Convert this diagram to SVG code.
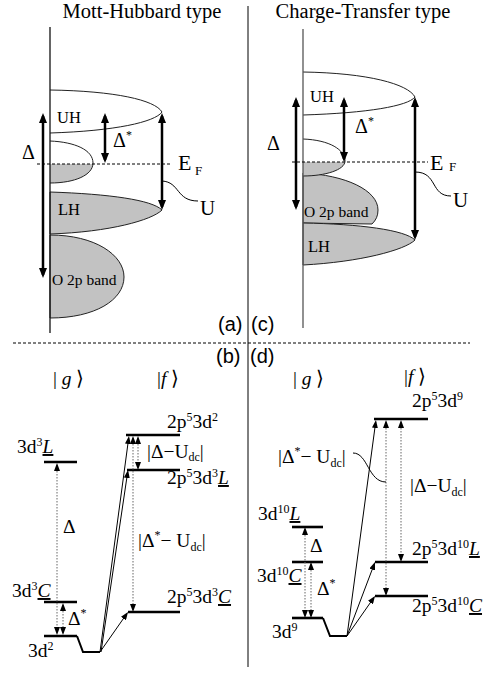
<svg xmlns="http://www.w3.org/2000/svg" width="491" height="673" viewBox="0 0 491 673">
<style>
text{font-family:"Liberation Serif","Times New Roman",serif;fill:#000}
.tt{font-size:20.5px}
.sans{font-family:"Liberation Sans",Arial,sans-serif;font-size:20px}
.bl{font-size:16.5px}
.ob{font-size:15.5px}
.gr{font-size:20px}
.lv{font-size:19.5px}
.sm{font-size:12px}
.ul{font-style:italic;text-decoration:underline}
.it{font-style:italic}
.band{stroke:#222;stroke-width:1;fill:none}
.fill{fill:#c2c2c2;stroke:#222;stroke-width:1}
.axis{stroke:#111;stroke-width:1.3;fill:none}
.big{stroke:#000;stroke-width:2.5;marker-start:url(#bh);marker-end:url(#bh)}
.lvl{stroke:#000;stroke-width:2.6;fill:none}
.gnd{stroke:#000;stroke-width:2;fill:none}
.sol{stroke:#000;stroke-width:1;marker-end:url(#sh);fill:none}
.dot{stroke:#666;stroke-width:1;stroke-dasharray:1.5 1.5;marker-start:url(#sh);marker-end:url(#sh)}
.dash{stroke:#000;stroke-width:1;stroke-dasharray:3 2;fill:none}
.thin{stroke:#000;stroke-width:1;fill:none}
</style>
<defs>
<marker id="bh" viewBox="0 0 10 8" refX="7" refY="4" markerWidth="10" markerHeight="8" markerUnits="userSpaceOnUse" orient="auto-start-reverse"><path d="M0,0 L10,4 L0,8 Z" fill="#000"/></marker>
<marker id="sh" viewBox="0 0 8 6" refX="6" refY="3" markerWidth="8" markerHeight="6" markerUnits="userSpaceOnUse" orient="auto-start-reverse"><path d="M0,0 L8,3 L0,6 Z" fill="#000"/></marker>
<clipPath id="belowA"><rect x="0" y="164" width="245" height="100"/></clipPath>
<clipPath id="belowC"><rect x="250" y="162" width="240" height="100"/></clipPath>
</defs>

<!-- frame lines -->
<g id="frame">
<line x1="248" y1="6" x2="248" y2="667" class="thin"/>
<line x1="13" y1="343" x2="470" y2="343" class="dash"/>
<text x="142" y="18" class="tt" text-anchor="middle">Mott-Hubbard type</text>
<text x="363" y="18" class="tt" text-anchor="middle">Charge-Transfer type</text>
<text x="218" y="331" class="sans">(a)</text>
<text x="251" y="331" class="sans">(c)</text>
<text x="216" y="363" class="sans">(b)</text>
<text x="250" y="363" class="sans">(d)</text>
</g>

<!-- panel (a) -->
<g id="a-bands">
<path id="a-O2p" class="fill" d="M50,235 C95,235 124,255 124,277 C124,300 95,318 50,318 Z"/>
<path id="a-LH" class="fill" d="M50,192 C110,194 152,200 162,210 C152,220 110,232 50,234 Z"/>
<path class="fill" clip-path="url(#belowA)" style="stroke:none" d="M50,141 C75,142 93,150 93,163 C93,175 75,183 50,183 Z"/>
<path id="a-mid" class="band" d="M50,141 C75,142 93,150 93,163 C93,175 75,183 50,183"/>
<path id="a-UH" class="band" d="M50,90 C115,91 155,100 162,112 C155,122 115,131 50,133"/>
<line x1="50" y1="27" x2="50" y2="333" class="axis"/>
<line x1="37" y1="164" x2="172" y2="164" class="dash"/>
<text x="57" y="123" class="bl">UH</text>
<text x="58" y="215" class="bl">LH</text>
<text x="52" y="285" class="ob">O 2p band</text>
<text x="178" y="170" style="font-size:22px">E</text>
<text x="195" y="175" style="font-size:13px">F</text>
<text x="22" y="159" class="gr">Δ</text>
<text x="113" y="147" class="gr">Δ<tspan class="sm" dy="-8">*</tspan></text>
<text x="200" y="215" style="font-size:21px">U</text>
</g>

<!-- panel (c) -->
<g id="c-bands">
<path id="c-O2p" class="fill" d="M303,173 C345,175 378,190 378,210 C378,216 376,220 372,224 L303,223 Z"/>
<path id="c-LH" class="fill" d="M303,223 C360,224 405,230 415,240 C405,250 360,262 303,265 Z"/>
<path class="fill" clip-path="url(#belowC)" style="stroke:none" d="M303,139 C330,140 345,150 345,161 C345,170 325,176 303,176 Z"/>
<path id="c-mid" class="band" d="M303,139 C330,140 345,150 345,161 C345,170 325,176 303,176"/>
<path id="c-UH" class="band" d="M303,72 C368,73 408,84 415,97 C408,106 368,113 303,115"/>
<line x1="303" y1="29" x2="303" y2="328" class="axis" style="stroke:#555"/>
<line x1="292" y1="162" x2="428" y2="162" class="dash"/>
<text x="310" y="102" class="bl">UH</text>
<text x="308" y="252" class="bl">LH</text>
<text x="304" y="217" class="ob">O 2p band</text>
<text x="430" y="170" style="font-size:22px">E</text>
<text x="449" y="171" style="font-size:13px">F</text>
<text x="267" y="150" class="gr">Δ</text>
<text x="355" y="133" class="gr">Δ<tspan class="sm" dy="-8">*</tspan></text>
<text x="453" y="207" style="font-size:21px">U</text>
</g>

<!-- panel (b) -->
<g id="b-levels">
<line x1="44" y1="462" x2="77" y2="462" class="lvl"/>
<line x1="44" y1="602" x2="77" y2="602" class="lvl"/>
<line x1="44" y1="636" x2="77" y2="636" class="lvl"/>
<path d="M77,636 L83,652 L100,652" class="gnd"/>
<line x1="126" y1="435" x2="180" y2="435" class="lvl"/>
<line x1="127" y1="470" x2="180" y2="470" class="lvl"/>
<line x1="128" y1="612" x2="180" y2="612" class="lvl"/>
<text x="17" y="453" class="lv">3d<tspan class="sm" dy="-7">3</tspan><tspan class="ul" dy="7">L</tspan></text>
<text x="12" y="597" class="lv">3d<tspan class="sm" dy="-7">3</tspan><tspan class="ul" dy="7">C</tspan></text>
<text x="28" y="657" class="lv">3d<tspan class="sm" dy="-7">2</tspan></text>
<text x="167" y="428" class="lv">2p<tspan class="sm" dy="-7">5</tspan><tspan dy="7">3d</tspan><tspan class="sm" dy="-7">2</tspan></text>
<text x="167" y="484" class="lv">2p<tspan class="sm" dy="-7">5</tspan><tspan dy="7">3d</tspan><tspan class="sm" dy="-7">3</tspan><tspan class="ul" dy="7">L</tspan></text>
<text x="167" y="603" class="lv">2p<tspan class="sm" dy="-7">5</tspan><tspan dy="7">3d</tspan><tspan class="sm" dy="-7">3</tspan><tspan class="ul" dy="7">C</tspan></text>
<text x="53" y="385" class="lv">| <tspan class="it">g</tspan> ⟩</text>
<text x="157" y="385" class="lv">|<tspan class="it">f</tspan> ⟩</text>
<text x="63" y="533" class="lv">Δ</text>
<text x="68" y="625" class="lv">Δ<tspan class="sm" dy="-8">*</tspan></text>
<text x="147" y="458" class="lv">|Δ−U<tspan class="sm" dy="3">dc</tspan><tspan dy="-3">|</tspan></text>
<text x="138" y="547" class="lv">|Δ<tspan class="sm" dy="-8">*</tspan><tspan dy="8">− U</tspan><tspan class="sm" dy="4">dc</tspan><tspan dy="-4">|</tspan></text>
</g>

<!-- panel (d) -->
<g id="d-levels">
<line x1="292" y1="527" x2="323" y2="527" class="lvl"/>
<line x1="292" y1="562" x2="323" y2="562" class="lvl"/>
<line x1="292" y1="618" x2="323" y2="618" class="lvl"/>
<path d="M323,618 L330,636 L347,636" class="gnd"/>
<line x1="374" y1="419" x2="428" y2="419" class="lvl"/>
<line x1="375" y1="562" x2="428" y2="562" class="lvl"/>
<line x1="375" y1="596" x2="428" y2="596" class="lvl"/>
<text x="258" y="520" class="lv">3d<tspan class="sm" dy="-7">10</tspan><tspan class="ul" dy="7">L</tspan></text>
<text x="257" y="582" class="lv">3d<tspan class="sm" dy="-7">10</tspan><tspan class="ul" dy="7">C</tspan></text>
<text x="272" y="638" class="lv">3d<tspan class="sm" dy="-7">9</tspan></text>
<text x="412" y="407" class="lv">2p<tspan class="sm" dy="-7">5</tspan><tspan dy="7">3d</tspan><tspan class="sm" dy="-7">9</tspan></text>
<text x="412" y="555" class="lv">2p<tspan class="sm" dy="-7">5</tspan><tspan dy="7">3d</tspan><tspan class="sm" dy="-7">10</tspan><tspan class="ul" dy="7">L</tspan></text>
<text x="412" y="612" class="lv">2p<tspan class="sm" dy="-7">5</tspan><tspan dy="7">3d</tspan><tspan class="sm" dy="-7">10</tspan><tspan class="ul" dy="7">C</tspan></text>
<text x="293" y="385" class="lv">| <tspan class="it">g</tspan> ⟩</text>
<text x="404" y="383" class="lv">|<tspan class="it">f</tspan> ⟩</text>
<text x="310" y="552" class="lv">Δ</text>
<text x="317" y="595" class="lv">Δ<tspan class="sm" dy="-8">*</tspan></text>
<text x="278" y="463" class="lv">|Δ<tspan class="sm" dy="-8">*</tspan><tspan dy="8">− U</tspan><tspan class="sm" dy="4">dc</tspan><tspan dy="-4">|</tspan></text>
<text x="410" y="492" class="lv">|Δ−U<tspan class="sm" dy="4">dc</tspan><tspan dy="-4">|</tspan></text>
</g>

<!-- connectors -->
<g id="connectors">
<line x1="43" y1="116" x2="43" y2="275" class="big"/>
<line x1="105" y1="116" x2="105" y2="160" class="big"/>
<line x1="162" y1="116" x2="162" y2="207" class="big"/>
<path d="M162,181 C180,182 176,201 198,201" class="thin"/>
<line x1="296" y1="100" x2="296" y2="207" class="big"/>
<line x1="344" y1="100" x2="344" y2="159" class="big"/>
<line x1="415" y1="100" x2="415" y2="237" class="big"/>
<path d="M415,172 C438,172 430,196 451,196" class="thin"/>

<line x1="100" y1="652" x2="126.9" y2="613.6" class="sol"/>
<line x1="100" y1="652" x2="128.7" y2="438" class="sol"/>
<line x1="101" y1="652" x2="127.7" y2="472" class="sol"/>
<line x1="57" y1="465" x2="57" y2="633" class="dot"/>
<line x1="63" y1="605" x2="63" y2="633" class="dot"/>
<line x1="133" y1="438" x2="133" y2="610" class="dot"/>
<line x1="138" y1="438" x2="138" y2="468" class="dot"/>

<line x1="347" y1="636" x2="374.3" y2="563.9" class="sol"/>
<line x1="347" y1="636" x2="373.9" y2="597.6" class="sol"/>
<line x1="347" y1="636" x2="375.7" y2="422" class="sol"/>
<line x1="305" y1="529" x2="305" y2="616" class="dot"/>
<line x1="311" y1="564" x2="311" y2="616" class="dot"/>
<line x1="386" y1="422" x2="386" y2="594" class="dot"/>
<line x1="401" y1="422" x2="401" y2="560" class="dot"/>
<path d="M353,453 C368,453 368,482 386,482" class="thin"/>
</g>
</svg>
